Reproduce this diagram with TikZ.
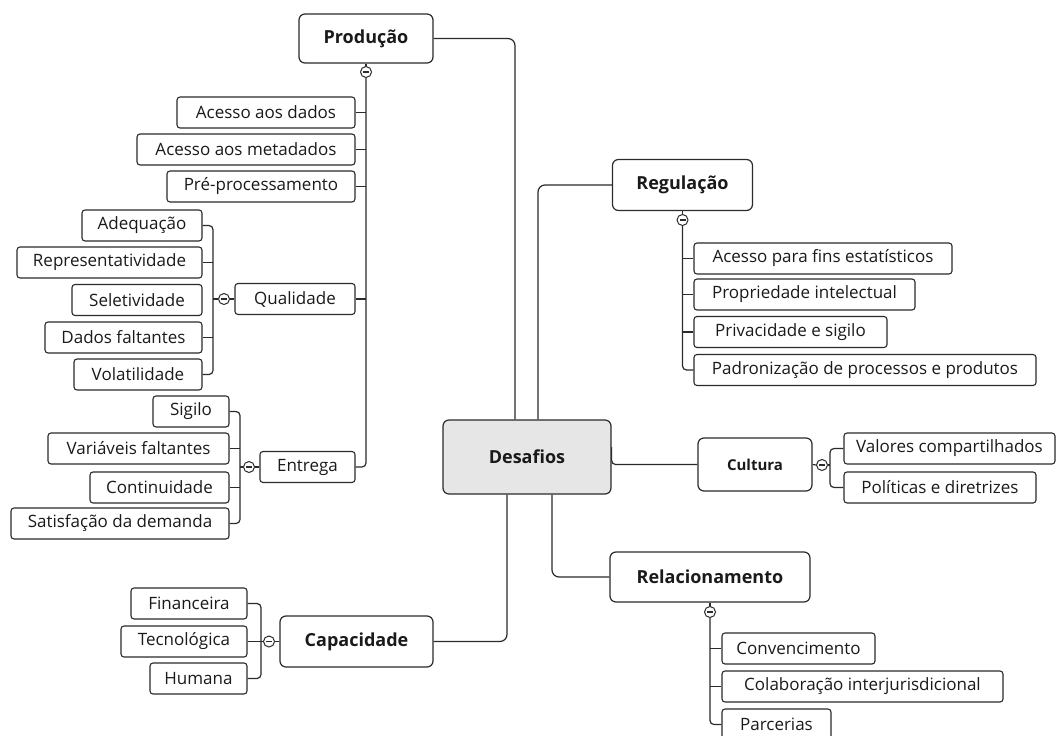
\documentclass[tikz,border=0pt]{standalone}
\usepackage{fontspec}
\setmainfont{Open Sans}
\definecolor{ln}{HTML}{2B2B2B}
\definecolor{tx}{HTML}{1A1A1A}
\definecolor{cfill}{HTML}{E6E6E6}
\tikzset{
 leaf/.style={draw=ln, line width=1.1pt, rounded corners=3pt, minimum height=31pt, inner sep=0pt, text=tx, font=\fontsize{17}{20}\selectfont},
 topic/.style={draw=ln, line width=1.2pt, rounded corners=6pt, inner sep=0pt, text=tx, font=\bfseries\fontsize{18}{21}\selectfont},
 toggle/.style={circle, draw=ln, line width=1pt, minimum size=11pt, inner sep=0pt, fill=white,
   path picture={\draw[ln, line width=1.1pt] ([xshift=-3pt]path picture bounding box.center) -- ([xshift=3pt]path picture bounding box.center);}},
 conn/.style={draw=ln, line width=1.2pt, rounded corners=4pt},
 bigconn/.style={draw=ln, line width=1.2pt, rounded corners=7pt}
}
\begin{document}
\begin{tikzpicture}[x=1pt,y=-1pt]
\clip (0,0) rectangle (1058,736);
\fill[white] (0,0) rectangle (1058,736);

% central
\node[topic, fill=cfill, minimum width=168pt, minimum height=74pt] (des) at (527,457) {Desafios};

% main topics
\node[topic, minimum width=134pt, minimum height=49pt] (prod) at (366,38.5) {Produção};
\node[topic, minimum width=140pt, minimum height=51pt] (reg) at (682.5,185) {Regulação};
\node[topic, minimum width=114pt, minimum height=53pt, font=\bfseries\fontsize{15}{18}\selectfont] (cul) at (755,464.5) {Cultura};
\node[topic, minimum width=200pt, minimum height=50pt] (rel) at (710,577) {Relacionamento};
\node[topic, minimum width=153pt, minimum height=51pt] (cap) at (356.5,641.5) {Capacidade};

% Produção children
\node[leaf, minimum width=178pt] (p1) at (266,112.5) {Acesso aos dados};
\node[leaf, minimum width=218pt] (p2) at (246,149.5) {Acesso aos metadados};
\node[leaf, minimum width=188pt] (p3) at (261,186.5) {Pré-processamento};
\node[leaf, minimum width=120pt] (qual) at (295,299) {Qualidade};
\node[leaf, minimum width=95pt] (ent) at (307.5,467) {Entrega};

% Qualidade children
\node[leaf, minimum width=120pt] (q1) at (142,225.5) {Adequação};
\node[leaf, minimum width=185pt] (q2) at (109.5,262.5) {Representatividade};
\node[leaf, minimum width=130pt] (q3) at (137,300) {Seletividade};
\node[leaf, minimum width=157pt] (q4) at (123.5,337.5) {Dados faltantes};
\node[leaf, minimum width=128pt] (q5) at (138,374.5) {Volatilidade};

% Entrega children
\node[leaf, minimum width=76pt] (e1) at (191,411.5) {Sigilo};
\node[leaf, minimum width=181pt] (e2) at (138.5,448.5) {Variáveis faltantes};
\node[leaf, minimum width=139pt] (e3) at (159.5,487.5) {Continuidade};
\node[leaf, minimum width=218pt] (e4) at (120,523.5) {Satisfação da demanda};

% Regulação children
\node[leaf, minimum width=258pt] (r1) at (823,258.5) {Acesso para fins estatísticos};
\node[leaf, minimum width=221pt] (r2) at (804.5,294.5) {Propriedade intelectual};
\node[leaf, minimum width=193pt] (r3) at (790.5,332) {Privacidade e sigilo};
\node[leaf, minimum width=342pt] (r4) at (865,370) {Padronização de processos e produtos};

% Cultura children
\node[leaf, minimum width=211pt] (c1) at (949.5,448.5) {Valores compartilhados};
\node[leaf, minimum width=192pt] (c2) at (940,487.5) {Políticas e diretrizes};

% Relacionamento children
\node[leaf, minimum width=153pt] (l1) at (798.5,648.5) {Convencimento};
\node[leaf, minimum width=281pt] (l2) at (862.5,686.5) {Colaboração interjurisdicional};
\node[leaf, minimum width=109pt] (l3) at (776.5,724.5) {Parcerias};

% Capacidade children
\node[leaf, minimum width=116pt] (k1) at (189,603.5) {Financeira};
\node[leaf, minimum width=126pt] (k2) at (184,641.5) {Tecnológica};
\node[leaf, minimum width=97pt] (k3) at (198.5,678.5) {Humana};

% toggles
\node[toggle] (tprod) at (366,72) {};
\node[toggle] (tqual) at (224,299) {};
\node[toggle] (tent) at (249,467) {};
\node[toggle] (treg) at (682.5,220) {};
\node[toggle] (tcul) at (822,465) {};
\node[toggle] (trel) at (710,612) {};
\node[toggle] (tcap) at (269,641.5) {};

% bar coordinates
\coordinate (bqual) at (213,299);
\coordinate (bent) at (240,467);
\coordinate (bcul) at (830,465);
\coordinate (bcap) at (261,641.5);

% central connectors
\path[bigconn] (prod.east) -| ([xshift=-12pt]des.north);
\path[bigconn] (reg.west) -| ([xshift=11pt]des.north);
\path[bigconn] (rel.west) -| ([xshift=25pt]des.south);
\path[bigconn] (cap.east) -| ([xshift=-20pt]des.south);
\path[conn] ([yshift=10pt]des.east) |- (cul.west);

% Produção tree
\path[conn] (prod.south) -- (tprod.north);
\path[conn] (tprod.south) -- (tprod.south |- ent.east) -- (ent.east);
\foreach \n in {p1,p2,p3,qual}{\path[conn] (\n.east) -- (\n.east -| tprod.south);}

% Qualidade tree
\path[conn] (qual.west) -- (tqual.east);
\path[conn] (tqual.west) -- (bqual);
\path[conn] (q1.east) -- (q1.east -| bqual) -- (q5.east -| bqual) -- (q5.east);
\foreach \n in {q2,q4}{\path[conn] (\n.east) -- (\n.east -| bqual);}

% Entrega tree
\path[conn] (ent.west) -- (tent.east);
\path[conn] (tent.west) -- (bent);
\path[conn] (e1.east) -- (e1.east -| bent) -- (e4.east -| bent) -- (e4.east);
\foreach \n in {e2,e3}{\path[conn] (\n.east) -- (\n.east -| bent);}

% Regulação tree
\path[conn] (reg.south) -- (treg.north);
\path[conn] (treg.south) -- (treg.south |- r4.west) -- (r4.west);
\foreach \n in {r1,r2,r3}{\path[conn] (\n.west) -- (\n.west -| treg.south);}

% Cultura tree
\path[conn] (cul.east) -- (tcul.west);
\path[conn] (tcul.east) -- (bcul);
\path[conn] (c1.west) -- (c1.west -| bcul) -- (c2.west -| bcul) -- (c2.west);

% Relacionamento tree
\path[conn] (rel.south) -- (trel.north);
\path[conn] (trel.south) -- (trel.south |- l3.west) -- (l3.west);
\foreach \n in {l1,l2}{\path[conn] (\n.west) -- (\n.west -| trel.south);}

% Capacidade tree
\path[conn] (cap.west) -- (tcap.east);
\path[conn] (tcap.west) -- (bcap);
\path[conn] (k1.east) -- (k1.east -| bcap) -- (k3.east -| bcap) -- (k3.east);
\path[conn] (k2.east) -- (bcap);
\end{tikzpicture}
\end{document}
